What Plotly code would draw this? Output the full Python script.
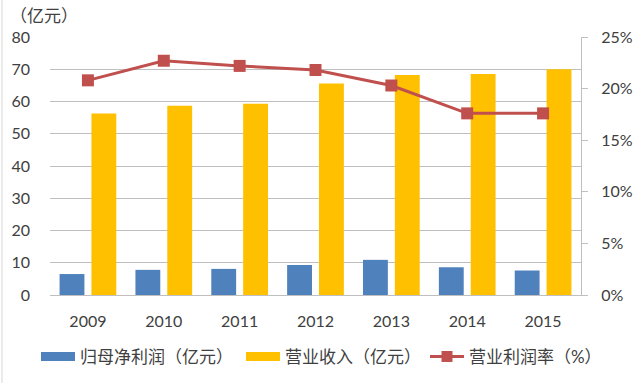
import plotly.graph_objects as go

years = ["2009", "2010", "2011", "2012", "2013", "2014", "2015"]
net_profit = [6.5, 7.8, 8.1, 9.3, 10.9, 8.6, 7.6]
revenue = [56.3, 58.7, 59.3, 65.6, 68.2, 68.5, 70.0]
op_margin = [20.8, 22.7, 22.2, 21.8, 20.3, 17.6, 17.6]
left_ticks = [0, 10, 20, 30, 40, 50, 60, 70, 80]
right_ticks = [0, 5, 10, 15, 20, 25]
right_labels = ["0%", "5%", "10%", "15%", "20%", "25%"]

FONT = "Lato, 'Noto Sans CJK SC', sans-serif"
TXT = "#404040"
BLUE = "#4F81BD"
YELLOW = "#FFC000"
RED = "#C0504D"

fig = go.Figure()
fig.add_trace(go.Bar(x=years, y=net_profit, name="归母净利润（亿元）", showlegend=False,
                     marker=dict(color=BLUE, line=dict(width=0))))
fig.add_trace(go.Bar(x=years, y=revenue, name="营业收入（亿元）", showlegend=False,
                     marker=dict(color=YELLOW, line=dict(width=0))))
fig.add_trace(go.Scatter(x=years, y=op_margin, name="营业利润率（%）", yaxis="y2",
                         mode="lines+markers", showlegend=False,
                         line=dict(color=RED, width=3),
                         marker=dict(symbol="square", size=12, color=RED)))
# legend entries (wide rectangle swatches like the original)
fig.add_trace(go.Scatter(x=[None], y=[None], name="归母净利润（亿元）", mode="lines",
                         line=dict(color=BLUE, width=9), legend="legend"))
fig.add_trace(go.Scatter(x=[None], y=[None], name="营业收入（亿元）", mode="lines",
                         line=dict(color=YELLOW, width=9), legend="legend2"))
fig.add_trace(go.Scatter(x=[None], y=[None], name="营业利润率（%）", mode="lines+markers",
                         line=dict(color=RED, width=3), legend="legend3",
                         marker=dict(symbol="square", size=11, color=RED)))

leg_common = dict(orientation="h", y=-0.24, yanchor="middle", xanchor="left",
                  font=dict(size=17, color=TXT), itemwidth=34,
                  bgcolor="rgba(0,0,0,0)")

fig.update_layout(
    width=640, height=383,
    margin=dict(l=50, r=59, t=37, b=88, autoexpand=False),
    paper_bgcolor="white", plot_bgcolor="white",
    barmode="group", bargap=0.16, bargroupgap=0.22,
    font=dict(family=FONT, size=16, color=TXT),
    xaxis=dict(type="category", showgrid=False, showline=True, linecolor="#BFBFBF",
               linewidth=1, ticks="", ticklabelstandoff=12, automargin=False,
               tickfont=dict(size=16, color=TXT)),
    yaxis=dict(range=[0, 80], tickvals=left_ticks, showgrid=True, gridcolor="#BFBFBF",
               gridwidth=1, showline=False, zeroline=False, ticks="", automargin=False,
               ticklabelstandoff=19, tickfont=dict(size=16, color=TXT)),
    yaxis2=dict(range=[0, 25], tickvals=right_ticks, ticktext=right_labels,
                overlaying="y", side="right", showgrid=False, zeroline=False,
                showline=True, linecolor="#BFBFBF", linewidth=1, automargin=False,
                ticks="outside", ticklen=6, tickcolor="#BFBFBF",
                ticklabelstandoff=10, tickfont=dict(size=16, color=TXT)),
    legend=dict(x=-0.0264, **leg_common),
    legend2=dict(x=0.3597, **leg_common),
    legend3=dict(x=0.7062, **leg_common),
    showlegend=True,
)
fig.add_annotation(text="（亿元）", xref="paper", yref="paper",
                   x=-0.079, y=1.085, xanchor="left", yanchor="middle",
                   showarrow=False, font=dict(size=17, color=TXT, family=FONT))
fig.add_shape(type="line", xref="paper", yref="paper", x0=-0.0904, x1=-0.0904,
              y0=-0.35, y1=1.15, line=dict(color="#D9D9D9", width=1))

fig.write_html("out.html", config={"displayModeBar": False},
               post_script="document.body.style.margin='0';")
